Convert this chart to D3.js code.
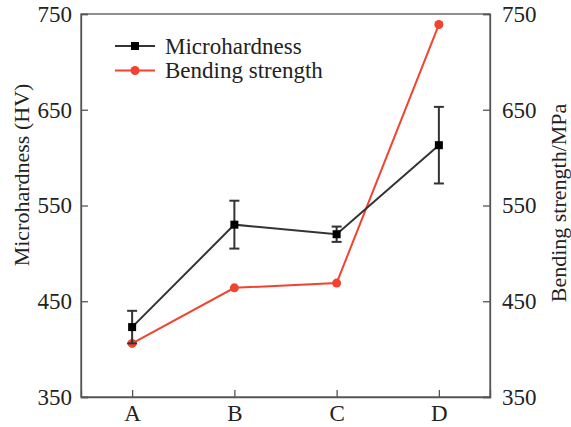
<!DOCTYPE html>
<html>
<head>
<meta charset="utf-8">
<script src="https://cdn.jsdelivr.net/npm/d3@7"></script>
<style>
  body { margin: 0; background: #fff; }
  text { font-family: "Liberation Serif", "Times New Roman", serif; fill: #222; }
</style>
</head>
<body>
<svg width="571" height="427"></svg>
<script>
// samples and measured values
var samples = ["A", "B", "C", "D"];
var hardness = [423, 530, 520, 613];
var hardnessErr = [17, 25, 8, 40];
var bending = [406, 464, 469, 739];
var yTicks = [350, 450, 550, 650, 750];

var svg = d3.select("svg");
var margin = { top: 14, right: 81, bottom: 30, left: 81 };
var width = 571 - margin.left - margin.right;
var height = 397 - margin.top;

var g = svg.append("g")
           .attr("transform", "translate(" + margin.left + "," + margin.top + ")");

var x = d3.scalePoint()
          .domain(samples)
          .range([0, width])
          .padding(0.5);

var yL = d3.scaleLinear().domain([350, 750]).range([height, 0]);
var yR = d3.scaleLinear().domain([350, 750]).range([height, 0]);

var axisColor = "#555";

// frame
g.append("rect")
 .attr("width", width)
 .attr("height", height)
 .attr("fill", "none")
 .attr("stroke", axisColor)
 .attr("stroke-width", 1.3);

function styleAxis(sel) {
  sel.select(".domain").attr("stroke", axisColor).attr("stroke-width", 1.3);
  sel.selectAll(".tick line").attr("stroke", axisColor).attr("stroke-width", 1.3);
  sel.selectAll(".tick text")
     .style("font-family", "'Liberation Serif', serif")
     .attr("font-size", 23)
     .attr("fill", "#222");
}

g.append("g")
 .call(d3.axisLeft(yL).tickValues(yTicks).tickSize(-7).tickPadding(9).tickFormat(d3.format("d")))
 .call(styleAxis);

g.append("g")
 .attr("transform", "translate(" + width + ",0)")
 .call(d3.axisRight(yR).tickValues(yTicks).tickSize(-7).tickPadding(12).tickFormat(d3.format("d")))
 .call(styleAxis);

g.append("g")
 .attr("transform", "translate(0," + height + ")")
 .call(d3.axisBottom(x).tickSize(-7).tickPadding(8))
 .call(styleAxis);

// axis titles
svg.append("text")
   .attr("transform", "translate(29,175) rotate(-90)")
   .attr("text-anchor", "middle")
   .attr("font-size", 22)
   .text("Microhardness (HV)");

svg.append("text")
   .attr("transform", "translate(566,203) rotate(-90)")
   .attr("text-anchor", "middle")
   .attr("font-size", 22)
   .text("Bending strength/MPa");

var lineH = d3.line()
              .x(function(d, i) { return x(samples[i]); })
              .y(function(d) { return yL(d); });
var lineB = d3.line()
              .x(function(d, i) { return x(samples[i]); })
              .y(function(d) { return yR(d); });

var black = "#333";
var red = "#f2432f";

// bending strength
g.append("path")
 .datum(bending)
 .attr("fill", "none")
 .attr("stroke", red)
 .attr("stroke-width", 2)
 .attr("d", lineB);

g.selectAll(".bdot")
 .data(bending)
 .enter().append("circle")
 .attr("cx", function(d, i) { return x(samples[i]); })
 .attr("cy", function(d) { return yR(d); })
 .attr("r", 4.5)
 .attr("fill", red);

// microhardness
g.append("path")
 .datum(hardness)
 .attr("fill", "none")
 .attr("stroke", black)
 .attr("stroke-width", 2)
 .attr("d", lineH);

var err = g.selectAll(".err")
           .data(hardness)
           .enter().append("g")
           .attr("transform", function(d, i) { return "translate(" + x(samples[i]) + ",0)"; });

err.append("line")
   .attr("y1", function(d, i) { return yL(d - hardnessErr[i]); })
   .attr("y2", function(d, i) { return yL(d + hardnessErr[i]); })
   .attr("stroke", black).attr("stroke-width", 2);
err.append("line")
   .attr("x1", -5).attr("x2", 5)
   .attr("y1", function(d, i) { return yL(d + hardnessErr[i]); })
   .attr("y2", function(d, i) { return yL(d + hardnessErr[i]); })
   .attr("stroke", black).attr("stroke-width", 2);
err.append("line")
   .attr("x1", -5).attr("x2", 5)
   .attr("y1", function(d, i) { return yL(d - hardnessErr[i]); })
   .attr("y2", function(d, i) { return yL(d - hardnessErr[i]); })
   .attr("stroke", black).attr("stroke-width", 2);
err.append("rect")
   .attr("x", -4).attr("width", 8).attr("height", 8)
   .attr("y", function(d) { return yL(d) - 4; })
   .attr("fill", "#000");

// legend
var legend = svg.append("g").attr("transform", "translate(115,46)");
var items = [
  { name: "Microhardness", color: black, shape: "square" },
  { name: "Bending strength", color: red, shape: "circle" }
];
items.forEach(function(it, i) {
  var row = legend.append("g").attr("transform", "translate(0," + (i * 24.5) + ")");
  row.append("line").attr("x1", 0).attr("x2", 40)
     .attr("stroke", it.color).attr("stroke-width", 2);
  if (it.shape === "square") {
    row.append("rect").attr("x", 16).attr("y", -4).attr("width", 8).attr("height", 8).attr("fill", "#000");
  } else {
    row.append("circle").attr("cx", 20).attr("r", 4.5).attr("fill", it.color);
  }
  row.append("text")
     .attr("x", 50)
     .attr("dy", "0.33em")
     .attr("font-size", 23)
     .text(it.name);
});
</script>
</body>
</html>
